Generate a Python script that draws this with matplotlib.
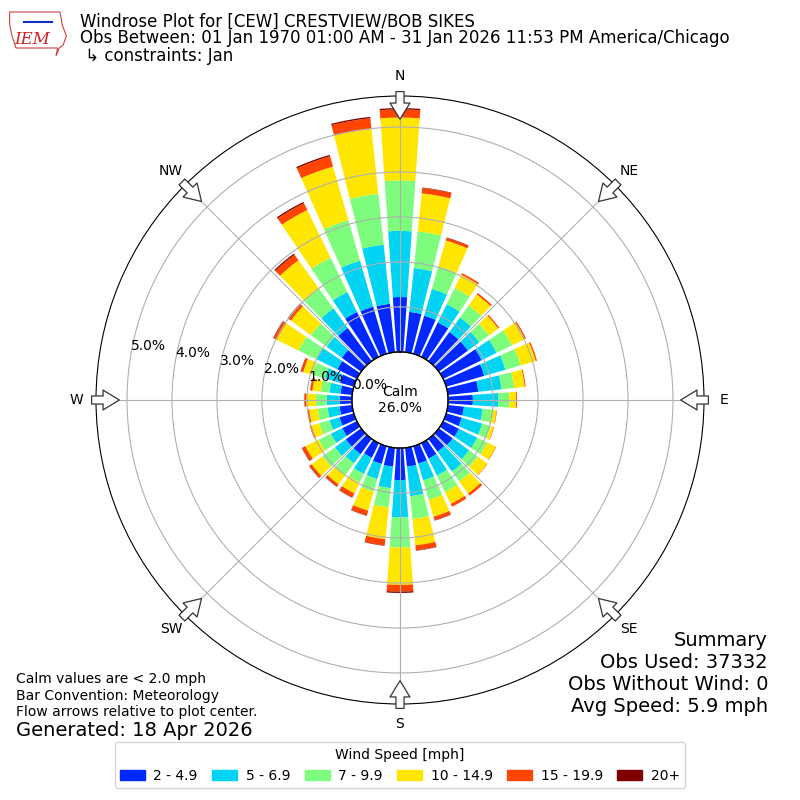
import numpy as np
import matplotlib
matplotlib.use('Agg')
import matplotlib.pyplot as plt
from matplotlib.patches import Patch, Polygon

# direction bins (deg, meteorological, 10 deg each)
dirs = np.arange(0, 360, 10)

# cumulative frequency (%) at the top of each speed bin
top_2 = [1.22, 0.90, 0.88, 0.85, 0.80, 0.80, 0.95, 0.88, 0.68, 0.55,
         0.36, 0.36, 0.39, 0.38, 0.35, 0.38, 0.40, 0.42, 0.71, 0.42,
         0.41, 0.36, 0.42, 0.42, 0.36, 0.33, 0.28, 0.27, 0.26, 0.32,
         0.48, 0.53, 0.91, 1.11, 1.09, 1.08]
top_5 = [2.69, 1.88, 1.50, 1.30, 1.20, 1.11, 1.32, 1.37, 1.20, 1.12,
         0.78, 0.83, 0.84, 0.83, 0.90, 0.80, 0.79, 1.08, 1.54, 0.90,
         0.76, 0.76, 0.67, 0.72, 0.64, 0.56, 0.55, 0.56, 0.51, 0.67,
         0.99, 0.95, 1.45, 1.60, 2.15, 2.40]
top_7 = [3.81, 2.70, 2.02, 1.70, 1.53, 1.37, 1.70, 1.72, 1.48, 1.36,
         1.00, 1.03, 1.09, 1.07, 1.17, 1.21, 1.24, 1.59, 2.21, 1.33,
         1.05, 0.97, 1.00, 1.06, 0.94, 0.80, 0.77, 0.80, 0.70, 0.97,
         1.44, 1.38, 2.00, 2.45, 3.09, 3.54]
top_10 = [5.21, 3.55, 2.62, 2.03, 1.83, 1.63, 2.02, 2.07, 1.72, 1.51,
          1.09, 1.10, 1.30, 1.33, 1.50, 1.50, 1.63, 2.18, 3.04, 2.04,
          1.49, 1.24, 1.25, 1.36, 1.27, 0.98, 0.96, 1.01, 0.89, 1.17,
          1.98, 1.93, 2.77, 3.63, 4.33, 4.99]
top_15 = [5.39, 3.67, 2.68, 2.07, 1.87, 1.66, 2.05, 2.10, 1.74, 1.53,
          1.10, 1.11, 1.31, 1.34, 1.56, 1.57, 1.71, 2.29, 3.19, 2.18,
          1.60, 1.34, 1.31, 1.42, 1.35, 1.02, 1.00, 1.06, 0.94, 1.22,
          2.06, 2.01, 2.92, 3.80, 4.57, 5.23]
top_20 = [5.42, 3.68, 2.69, 2.07, 1.87, 1.66, 2.05, 2.10, 1.74, 1.53,
          1.10, 1.11, 1.31, 1.34, 1.56, 1.57, 1.72, 2.30, 3.22, 2.19,
          1.61, 1.35, 1.32, 1.43, 1.36, 1.02, 1.00, 1.06, 0.94, 1.23,
          2.07, 2.02, 2.95, 3.83, 4.60, 5.26]

bin_labels = ['2 - 4.9', '5 - 6.9', '7 - 9.9', '10 - 14.9', '15 - 19.9', '20+']
colors = ['#0028ff', '#00d4f2', '#7dfc7d', '#ffe600', '#ff4500', '#7f0000']
calm_pct = 26.0
rticks = [0, 1, 2, 3, 4, 5]
compass = ['N', 'NE', 'E', 'SE', 'S', 'SW', 'W', 'NW']

fig = plt.figure(figsize=(8, 8), dpi=100)
ax = fig.add_axes([0.12, 0.12, 0.76, 0.76], projection='polar')
ax.set_theta_zero_location('N')
ax.set_theta_direction(-1)

theta = np.radians(dirs)
width = np.radians(8)
tops = [top_2, top_5, top_7, top_10, top_15, top_20]
bottom = np.zeros(len(dirs))
for i, t in enumerate(tops):
    t = np.array(t)
    ax.bar(theta, t - bottom, width=width, bottom=bottom, color=colors[i],
           edgecolor='none')
    bottom = t

ax.set_rorigin(-1.07)
ax.set_ylim(0, 5.69)
ax.set_yticks(rticks)
ax.set_yticklabels(['%.1f%%' % v for v in rticks], fontsize=10)
ax.set_rlabel_position(280)
ax.set_xticks(np.radians(np.arange(0, 360, 45)))
ax.set_xticklabels([])
ax.set_axisbelow(False)
ax.grid(True, color='#b0b0b0', lw=0.8)

# compass labels
for i, lab in enumerate(compass):
    ax.text(np.radians(i * 45), 6.13, lab, ha='center', va='center',
            fontsize=10)

# calm circle
circ = np.linspace(0, 2 * np.pi, 300)
ax.plot(circ, np.zeros_like(circ), color='k', lw=1, zorder=3, clip_on=False)
ax.text(0, -1.07, 'Calm\n%.1f%%' % calm_pct, ha='center', va='center',
        fontsize=10, zorder=4)

# flow arrows pointing to the centre
for i in range(8):
    th = np.radians(i * 45)
    ax.annotate('', xy=(th, 5.11), xytext=(th, 5.85),
                arrowprops=dict(arrowstyle='simple,head_length=0.9,head_width=1.1,tail_width=0.45',
                                fc='white', ec='#333333', lw=0.9, mutation_scale=13),
                annotation_clip=False, zorder=5)

# title block
fig.text(0.1, 0.973, 'Windrose Plot for [CEW] CRESTVIEW/BOB SIKES', fontsize=12, va='center')
fig.text(0.1, 0.952, 'Obs Between: 01 Jan 1970 01:00 AM - 31 Jan 2026 11:53 PM America/Chicago',
         fontsize=12, va='center')
fig.text(0.1, 0.930, ' \u21b3 constraints: Jan', fontsize=12, va='center')

# rough logo
iowa = Polygon([[0.012, 0.985], [0.075, 0.985], [0.078, 0.968], [0.083, 0.955],
                [0.079, 0.944], [0.074, 0.94], [0.07, 0.93], [0.072, 0.94],
                [0.02, 0.94], [0.015, 0.955], [0.012, 0.97]],
               closed=True, fill=False, ec='#d04040', lw=0.8, transform=fig.transFigure)
fig.patches.append(iowa)
fig.text(0.018, 0.951, 'IEM', fontsize=12, color='#cc2222', family='serif',
         style='italic', va='center')
fig.lines.append(plt.Line2D([0.03, 0.065], [0.972, 0.972], color='#1030c0', lw=1.5,
                            transform=fig.transFigure))

# bottom left notes
fig.text(0.02, 0.151, 'Calm values are < 2.0 mph', fontsize=10, va='center')
fig.text(0.02, 0.130, 'Bar Convention: Meteorology', fontsize=10, va='center')
fig.text(0.02, 0.110, 'Flow arrows relative to plot center.', fontsize=10, va='center')
fig.text(0.02, 0.087, 'Generated: 18 Apr 2026', fontsize=14, va='center')

# summary
summary = ['Summary', 'Obs Used: 37332', 'Obs Without Wind: 0', 'Avg Speed: 5.9 mph']
for i, s in enumerate(summary):
    fig.text(0.96, 0.2 - i * 0.0275, s, fontsize=14, ha='right', va='center')

handles = [Patch(color=c, label=l) for c, l in zip(colors, bin_labels)]
fig.legend(handles=handles, ncol=6, loc='lower center', bbox_to_anchor=(0.5, 0.006),
           title='Wind Speed [mph]', fontsize=10, title_fontsize=10,
           handlelength=1.8, handletextpad=0.6, columnspacing=1.05)

fig.savefig('out.png', dpi=100)
